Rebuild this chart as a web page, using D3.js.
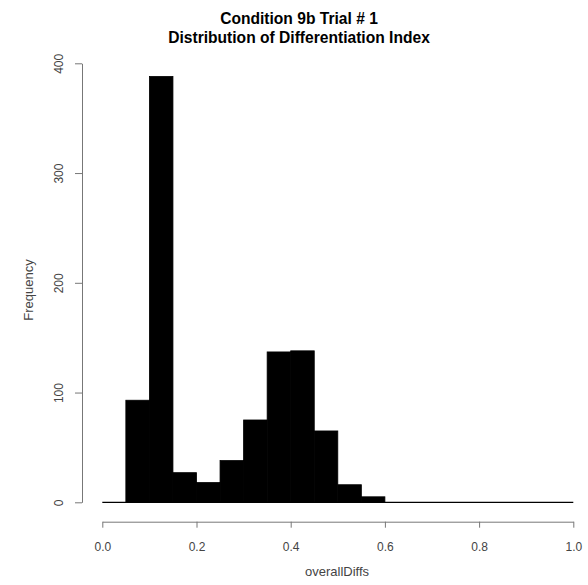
<!DOCTYPE html>
<html>
<head>
<meta charset="utf-8">
<script src="https://cdn.jsdelivr.net/npm/d3@7"></script>
<style>
  html, body { margin: 0; padding: 0; background: #fff; }
  svg { display: block; font-family: "Liberation Sans", Arial, sans-serif; }
</style>
</head>
<body>
<svg id="chart" width="588" height="585"></svg>
<script>
// Histogram bins (left edges) and their counts
const binStarts = [0.05, 0.10, 0.15, 0.20, 0.25, 0.30, 0.35, 0.40, 0.45, 0.50, 0.55];
const binWidth = 0.05;
const counts = [93, 388, 27, 18, 38, 75, 137, 138, 65, 16, 5];
const xTicks = [0, 0.2, 0.4, 0.6, 0.8, 1.0];
const yTicks = [0, 100, 200, 300, 400];
const titleLines = ["Condition 9b Trial # 1", "Distribution of Differentiation Index"];
const xLabel = "overallDiffs";
const yLabel = "Frequency";

const svg = d3.select("#chart");

const x = d3.scaleLinear().domain([0, 1]).range([102.3, 573.3]);
const y = d3.scaleLinear().domain([0, 400]).range([502.3, 63.3]);

const bins = binStarts.map((s, i) => ({ x0: s, x1: s + binWidth, n: counts[i] }));

// bars (black fill with a black border, so neighbours merge without seams)
svg.append("g").selectAll("rect").data(bins).join("rect")
  .attr("x", d => x(d.x0))
  .attr("y", d => y(d.n))
  .attr("width", d => x(d.x1) - x(d.x0))
  .attr("height", d => y(0) - y(d.n))
  .attr("fill", "#000")
  .attr("stroke", "#000")
  .attr("stroke-width", 0.8);

// baseline under the bars
svg.append("line")
  .attr("x1", x(0)).attr("x2", x(1))
  .attr("y1", y(0)).attr("y2", y(0))
  .attr("stroke", "#000").attr("stroke-width", 1.2);

// x axis
const xAxis = svg.append("g")
  .attr("transform", "translate(0,521.7)")
  .call(d3.axisBottom(x).tickValues(xTicks).tickFormat(d3.format(".1f")).tickSize(6).tickSizeOuter(0));
xAxis.select(".domain").attr("stroke", "#777");
xAxis.selectAll(".tick line").attr("stroke", "#777");
xAxis.selectAll(".tick text")
  .attr("fill", "#444").attr("font-size", 12)
  .attr("font-family", "Liberation Sans, Arial, sans-serif")
  .attr("dy", null).attr("y", 29);

// y axis
const yAxis = svg.append("g")
  .attr("transform", "translate(82,0)")
  .call(d3.axisLeft(y).tickValues(yTicks).tickSize(7).tickSizeOuter(0));
yAxis.select(".domain").attr("stroke", "#777");
yAxis.selectAll(".tick line").attr("stroke", "#777");
yAxis.selectAll(".tick text")
  .attr("fill", "#444").attr("font-size", 12)
  .attr("font-family", "Liberation Sans, Arial, sans-serif")
  .attr("x", null).attr("dy", null)
  .attr("text-anchor", "middle")
  .attr("transform", "translate(-19,0) rotate(-90)");

// axis titles
svg.append("text")
  .attr("x", 337).attr("y", 576)
  .attr("text-anchor", "middle")
  .attr("font-size", 13).attr("fill", "#444")
  .text(xLabel);

svg.append("text")
  .attr("transform", "translate(33,290) rotate(-90)")
  .attr("text-anchor", "middle")
  .attr("font-size", 13).attr("fill", "#444")
  .text(yLabel);

// title
svg.append("g").selectAll("text").data(titleLines).join("text")
  .attr("x", 299)
  .attr("y", (d, i) => 24 + i * 19)
  .attr("text-anchor", "middle")
  .attr("font-size", 15.6).attr("font-weight", "bold").attr("fill", "#000")
  .text(d => d);
</script>
</body>
</html>
